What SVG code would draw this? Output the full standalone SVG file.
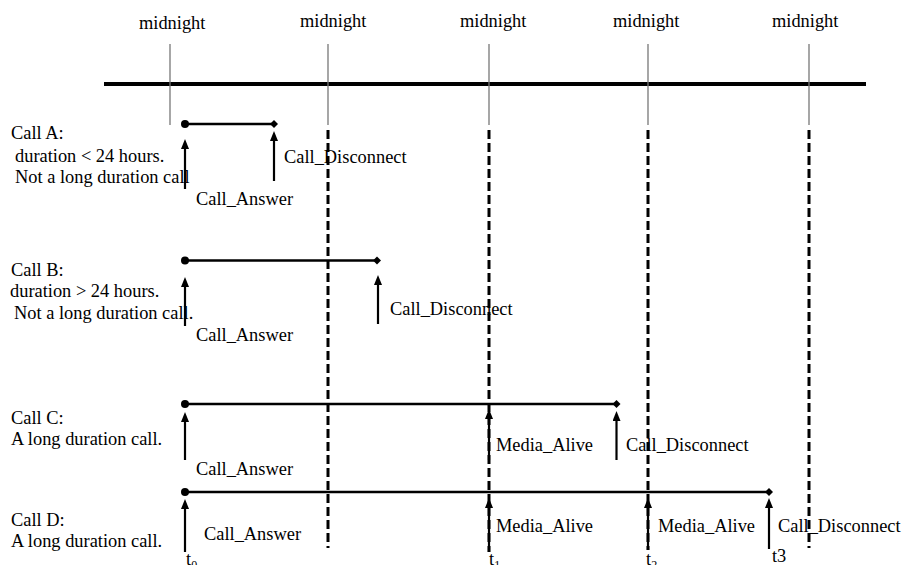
<svg xmlns="http://www.w3.org/2000/svg" width="906" height="565" viewBox="0 0 906 565">
<style>
.t { font-family: "Liberation Serif", "Times New Roman", serif; font-size: 18.4px; fill: #000; }
.sub { font-size: 12px; }
.grid { stroke: #777; stroke-width: 1.3; fill: none; }
.axis { stroke: #000; stroke-width: 4; }
.dash { stroke: #000; stroke-width: 3; stroke-dasharray: 9 4; fill: none; }
.call { stroke: #000; stroke-width: 2.6; }
.arr { stroke: #000; stroke-width: 2.2; fill: none; marker-end: url(#ah); }
.dot { fill: #000; }
</style>
<defs>
<marker id="ah" markerUnits="userSpaceOnUse" markerWidth="10" markerHeight="8" refX="4" refY="4" orient="auto">
<path d="M0,0 L10,4 L0,8 z" fill="#000"/>
</marker>
</defs>
<rect width="906" height="565" fill="#fff"/>

<g id="timeline">
<line class="axis" x1="104" y1="84" x2="866" y2="84"/>
<line class="grid" x1="170" y1="44" x2="170" y2="125"/>
<line class="grid" x1="328" y1="44" x2="328" y2="125"/>
<line class="grid" x1="489" y1="44" x2="489" y2="125"/>
<line class="grid" x1="648" y1="44" x2="648" y2="125"/>
<line class="grid" x1="809" y1="44" x2="809" y2="125"/>
<line class="dash" x1="328" y1="130" x2="328" y2="548"/>
<line class="dash" x1="489" y1="130" x2="489" y2="552"/>
<line class="dash" x1="648" y1="130" x2="648" y2="550"/>
<line class="dash" x1="809" y1="130" x2="809" y2="548"/>
<text class="t" x="139" y="29">midnight</text>
<text class="t" x="300" y="26.5">midnight</text>
<text class="t" x="460" y="26.5">midnight</text>
<text class="t" x="613" y="26.5">midnight</text>
<text class="t" x="772" y="26.5">midnight</text>
<text class="t" x="186" y="565">t<tspan class="sub" dy="4">0</tspan></text>
<text class="t" x="489" y="565">t<tspan class="sub" dy="4">1</tspan></text>
<text class="t" x="646" y="565">t<tspan class="sub" dy="4">2</tspan></text>
<text class="t" x="772" y="562">t3</text>
</g>

<g id="callA">
<line class="call" x1="185" y1="124" x2="274" y2="124"/>
<circle class="dot" cx="185" cy="124" r="4"/>
<polygon class="dot" points="274,120 278,124 274,128 270,124"/>
<text class="t" x="11" y="138.5">Call A:</text>
<text class="t" x="15" y="161.5">duration &lt; 24 hours.</text>
<text class="t" x="15" y="183">Not a long duration call</text>
<text class="t" x="284" y="163">Call_Disconnect</text>
<text class="t" x="196" y="205">Call_Answer</text>
</g>

<g id="callB">
<line class="call" x1="185" y1="260.5" x2="377" y2="260.5"/>
<circle class="dot" cx="185" cy="260.5" r="4"/>
<polygon class="dot" points="377,256.5 381,260.5 377,264.5 373,260.5"/>
<text class="t" x="11" y="275.5">Call B:</text>
<text class="t" x="10" y="297">duration &gt; 24 hours.</text>
<text class="t" x="14" y="319">Not a long duration call.</text>
<text class="t" x="390" y="315">Call_Disconnect</text>
<text class="t" x="196" y="341">Call_Answer</text>
</g>

<g id="callC">
<line class="call" x1="185" y1="404" x2="616.5" y2="404"/>
<circle class="dot" cx="185" cy="404" r="4"/>
<polygon class="dot" points="616.5,400 620.5,404 616.5,408 612.5,404"/>
<text class="t" x="11" y="424">Call C:</text>
<text class="t" x="11" y="445">A long duration call.</text>
<text class="t" x="496" y="451">Media_Alive</text>
<text class="t" x="626" y="451">Call_Disconnect</text>
<text class="t" x="196" y="475">Call_Answer</text>
</g>

<g id="callD">
<line class="call" x1="185" y1="492" x2="769" y2="492"/>
<circle class="dot" cx="185" cy="492" r="4"/>
<polygon class="dot" points="769,488 773,492 769,496 765,492"/>
<text class="t" x="11" y="526">Call D:</text>
<text class="t" x="11" y="547">A long duration call.</text>
<text class="t" x="204" y="540">Call_Answer</text>
<text class="t" x="496" y="532">Media_Alive</text>
<text class="t" x="658" y="532">Media_Alive</text>
<text class="t" x="778" y="532">Call_Disconnect</text>
</g>

<g id="connectors">
<line class="arr" x1="185" y1="189" x2="185" y2="145"/>
<line class="arr" x1="274" y1="181" x2="274" y2="137"/>
<line class="arr" x1="185" y1="326" x2="185" y2="283"/>
<line class="arr" x1="378" y1="324" x2="378" y2="281"/>
<line class="arr" x1="185" y1="460" x2="185" y2="418"/>
<line class="arr" x1="489" y1="460" x2="489" y2="415"/>
<line class="arr" x1="616.5" y1="460" x2="616.5" y2="417"/>
<line class="arr" x1="185" y1="552" x2="185" y2="505"/>
<line class="arr" x1="489" y1="552" x2="489" y2="504"/>
<line class="arr" x1="648" y1="550" x2="648" y2="504"/>
<line class="arr" x1="769" y1="549" x2="769" y2="504"/>
</g>
</svg>
